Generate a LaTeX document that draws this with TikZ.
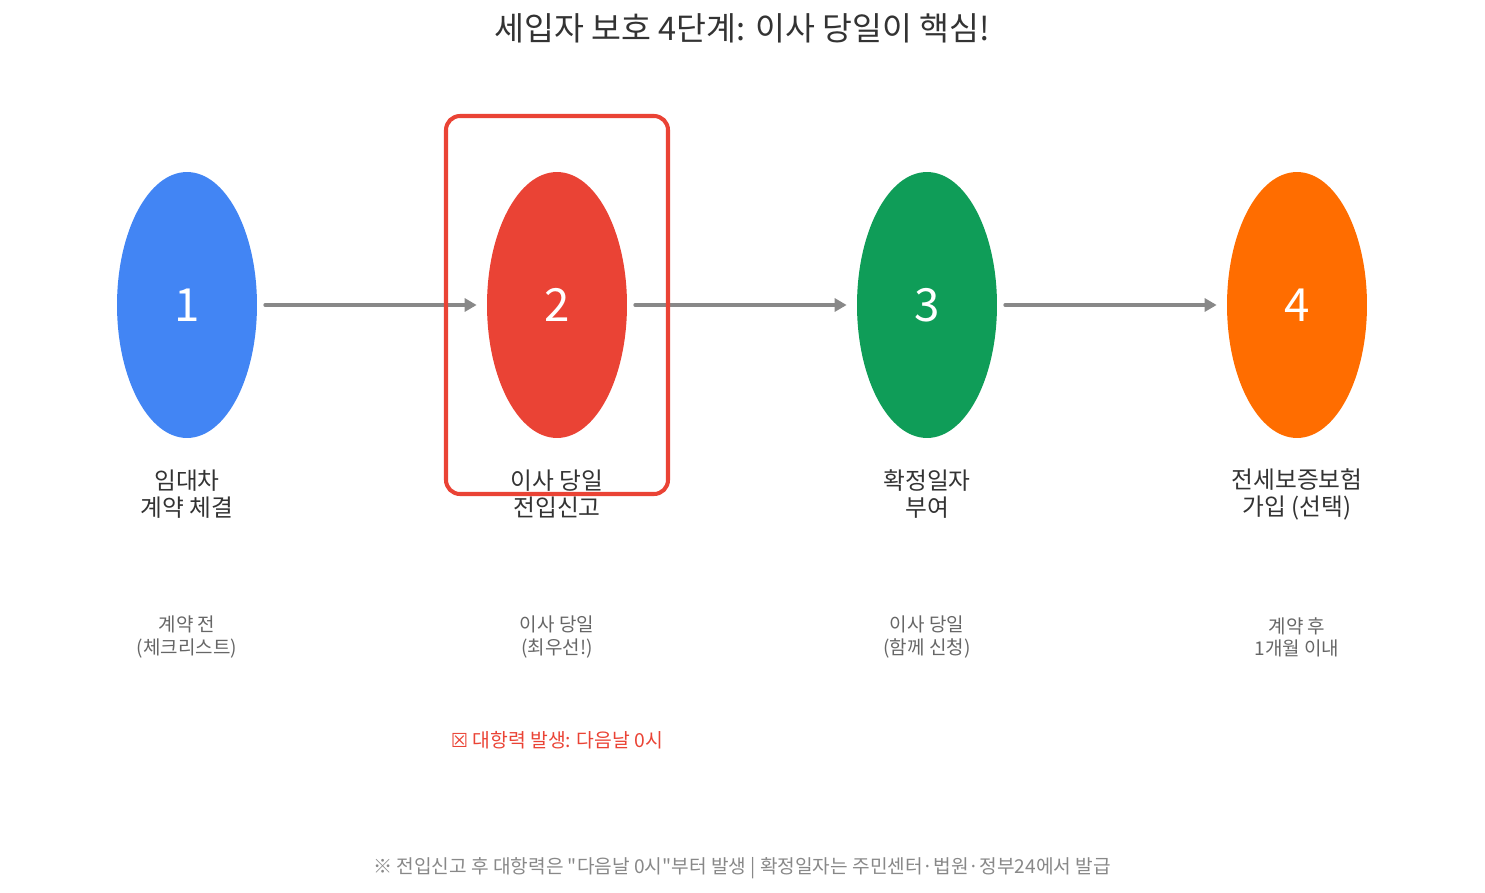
\documentclass[tikz,border=0pt]{standalone}
\usepackage{fontspec}
\setmainfont{Noto Sans CJK KR}
\newfontfamily\symfont{DejaVu Sans}
\usetikzlibrary{arrows.meta,shapes.geometric}
\definecolor{blue_step}{HTML}{4285F4}
\definecolor{red_step}{HTML}{EA4335}
\definecolor{green_step}{HTML}{0F9D58}
\definecolor{orange_step}{HTML}{FF6D00}
\definecolor{arrow_gray}{HTML}{888888}
\definecolor{text_dark}{HTML}{333333}
\definecolor{text_sub}{HTML}{666666}

\begin{document}
\begin{tikzpicture}[x=0.02cm,y=-0.02cm,line cap=round,line join=round,
  stepdot/.style={ellipse,minimum width=2.8cm,minimum height=5.32cm,inner sep=0pt,text=white,font=\fontsize{26}{30}\selectfont},
  steplabel/.style={align=center,text=text_dark,font=\fontsize{13.5}{15.3}\selectfont},
  stepnote/.style={align=center,text=text_sub,font=\fontsize{10.8}{12.6}\selectfont},
  flow/.style={draw=arrow_gray,line width=2.3pt,-{Triangle[length=0.24cm,width=0.26cm]}}]

\useasboundingbox (0,0) rectangle (1485,893);

% Title
\node[text=text_dark,font=\fontsize{18.5}{22}\selectfont] (title) at (742,28) {세입자 보호 4단계: 이사 당일이 핵심!};

%-----------------------------------------------
% Steps
\node[stepdot,fill=blue_step]   (S1) at (187,305) {1};
\node[stepdot,fill=red_step]    (S2) at (557,305) {2};
\node[stepdot,fill=green_step]  (S3) at (927,305) {3};
\node[stepdot,fill=orange_step] (S4) at (1297,305) {4};

%-----------------------------------------------
% Arrows between the steps
\draw[flow] ([xshift=0.16cm]S1.east) -- ([xshift=-0.2cm]S2.west);
\draw[flow] ([xshift=0.16cm]S2.east) -- ([xshift=-0.2cm]S3.west);
\draw[flow] ([xshift=0.16cm]S3.east) -- ([xshift=-0.2cm]S4.west);

%-----------------------------------------------
% Labels under the steps
\node[steplabel] (L1) at (187,494) {임대차\\계약 체결};
\node[steplabel] (L2) at (557,494) {이사 당일\\전입신고};
\node[steplabel] (L3) at (927,494) {확정일자\\부여};
\node[steplabel] (L4) at (1297,494) {전세보증보험\\가입 (선택)};

\node[stepnote] (N1) at (187,637) {계약 전\\(체크리스트)};
\node[stepnote] (N2) at (557,637) {이사 당일\\(최우선!)};
\node[stepnote] (N3) at (927,637) {이사 당일\\(함께 신청)};
\node[stepnote] (N4) at (1297,637) {계약 후\\1개월 이내};

%-----------------------------------------------
% Highlight of step 2
\draw[red_step,line width=2.3pt,rounded corners=0.28cm] (446,116) rectangle (668,494);

\node[text=red_step,font=\fontsize{11}{13}\selectfont] (warn) at (557,740) {{\symfont ☒} 대항력 발생: 다음날 0시};

% Footer
\node[text=arrow_gray,font=\fontsize{10.9}{13}\selectfont] (footer) at (742,868) {※ 전입신고 후 대항력은 \textquotedbl 다음날 0시\textquotedbl 부터 발생 | 확정일자는 주민센터·법원·정부24에서 발급};

\end{tikzpicture}
\end{document}
